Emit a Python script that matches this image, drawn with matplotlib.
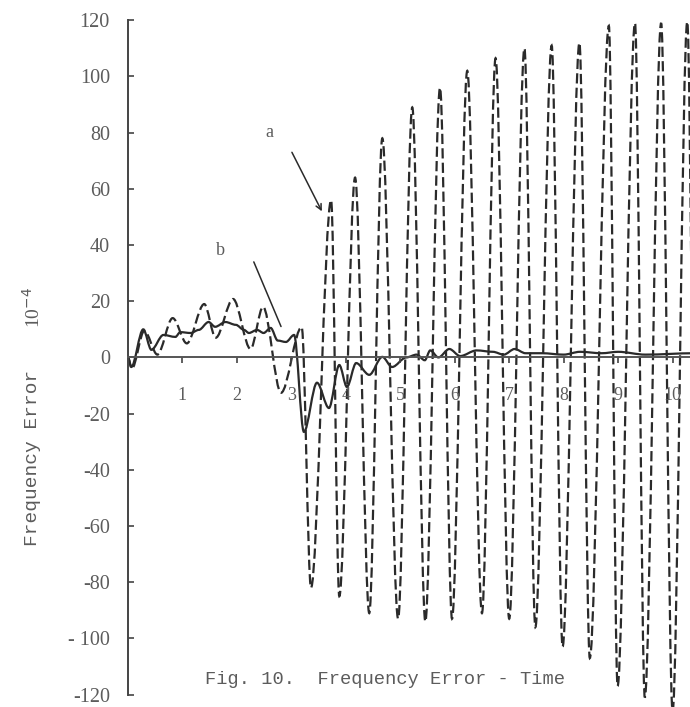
import matplotlib
matplotlib.use("Agg")
import matplotlib.pyplot as plt
from matplotlib.path import Path
from matplotlib.patches import PathPatch

# curve a (dashed): turning points, time vs error (x 10^-4)
t_a = [0.0, 0.07, 0.30, 0.54, 0.82, 1.08, 1.40, 1.61, 1.93, 2.25, 2.48, 2.81, 3.19,
       3.36, 3.73, 3.88, 4.17, 4.43, 4.67, 4.96, 5.22, 5.46, 5.73, 5.95, 6.23,
       6.50, 6.75, 7.00, 7.28, 7.48, 7.78, 7.98, 8.29, 8.48, 8.83, 8.99, 9.31,
       9.49, 9.79, 10.00, 10.27, 10.45]
v_a = [0.0, -4.0, 9.5, 1.0, 14.0, 5.0, 19.0, 7.0, 20.8, 3.0, 18.0, -12.6, 10.8,
       -82.0, 56.0, -85.0, 64.0, -91.0, 78.0, -93.0, 89.0, -94.0, 96.0, -93.0, 102.0,
       -91.0, 106.5, -93.0, 110.0, -96.0, 111.0, -103.0, 112.0, -107.0, 118.0, -117.0, 119.0,
       -121.0, 119.0, -126.0, 119.5, -126.0]

# curve b (solid)
t_b = [0.0, 0.06, 0.28, 0.43, 0.65, 0.87, 0.96, 1.15, 1.30, 1.48, 1.60, 1.79, 1.98,
       2.13, 2.22, 2.37, 2.49, 2.62, 2.75, 2.90, 3.05, 3.23, 3.47, 3.69, 3.88, 4.02,
       4.19, 4.43, 4.67, 4.85, 5.11, 5.30, 5.45, 5.55, 5.70, 5.90, 6.10, 6.40, 6.70,
       6.90, 7.10, 7.30, 7.60, 8.00, 8.30, 8.70, 9.00, 9.50, 10.40]
v_b = [0.0, -3.4, 10.0, 2.7, 8.0, 7.3, 9.0, 8.7, 9.8, 12.6, 10.9, 12.6, 11.6,
       9.8, 8.7, 9.8, 8.7, 10.5, 6.0, 5.5, 8.0, -26.5, -9.0, -18.0, -2.7, -10.5,
       -2.0, -6.2, 0.2, -3.4, 0.0, 1.0, -1.0, 2.5, 0.0, 3.0, 0.5, 2.5, 2.0,
       1.0, 3.0, 1.5, 1.5, 1.0, 2.0, 1.5, 2.0, 1.0, 1.5]

y_ticks = [-120, -100, -80, -60, -40, -20, 0, 20, 40, 60, 80, 100, 120]
y_tick_labels = ['-120', '- 100', '-80', '-60', '-40', '-20', '0',
                 '20', '40', '60', '80', '100', '120']
x_ticks = [1, 2, 3, 4, 5, 6, 7, 8, 9, 10]
x_tick_labels = ['1', '2', '3', '4', '5', '6', '7', '8', '9', '10']

INK = '#2a2a2a'
TEXT = '#5c5c5c'


def smooth_path(t, v, k=0.33):
    """Bezier path through turning points, flat at each one."""
    verts = [(t[0], v[0])]
    codes = [Path.MOVETO]
    for i in range(len(t) - 1):
        dt = t[i + 1] - t[i]
        verts += [(t[i] + k * dt, v[i]), (t[i + 1] - k * dt, v[i + 1]), (t[i + 1], v[i + 1])]
        codes += [Path.CURVE4] * 3
    return Path(verts, codes)


fig = plt.figure(figsize=(6.9, 7.07), dpi=100)
ax = fig.add_axes([128 / 690, 0, 1 - 128 / 690, 1])
ax.set_xlim(0, 10.32)
ax.set_ylim(-124.4, 127.2)

ax.add_patch(PathPatch(smooth_path(t_a, v_a), fill=False, ec=INK, lw=1.6,
                       linestyle=(0, (4.6, 1.9))))
ax.add_patch(PathPatch(smooth_path(t_b, v_b), fill=False, ec=INK, lw=1.6))

for s in ['top', 'right']:
    ax.spines[s].set_visible(False)
ax.spines['left'].set_bounds(-120, 120)
ax.spines['left'].set_color('#444444')
ax.spines['left'].set_linewidth(1.4)
ax.spines['bottom'].set_position(('data', 0))
ax.spines['bottom'].set_color('#555555')
ax.spines['bottom'].set_linewidth(1.4)

serif = 'Liberation Serif'
ax.set_yticks(y_ticks)
ax.set_yticklabels(y_tick_labels, fontfamily=serif, fontsize=14.5, color=TEXT)
ax.tick_params(axis='y', direction='in', length=4, width=1.2, color='#444444', pad=13)
ax.set_xticks(x_ticks)
ax.set_xticklabels(x_tick_labels, fontfamily=serif, fontsize=13, color=TEXT)
ax.tick_params(axis='x', direction='out', length=4.5, width=1.2, color='#444444', pad=17)

# labels on the curves
ax.text(2.59, 80, 'a', fontfamily=serif, fontsize=13, color=TEXT, ha='center', va='center')
ax.annotate('', xy=(3.56, 52), xytext=(3.01, 73),
            arrowprops=dict(arrowstyle='->', lw=1.1, color=INK, shrinkA=0, shrinkB=0))
ax.text(1.70, 38, 'b', fontfamily=serif, fontsize=13, color=TEXT, ha='center', va='center')
ax.annotate('', xy=(2.81, 11), xytext=(2.31, 34),
            arrowprops=dict(arrowstyle='-', lw=1.1, color=INK, shrinkA=0, shrinkB=0))

mono = 'Liberation Mono'
fig.text(33 / 690, 1 - 458 / 707, 'Frequency Error', rotation=90, fontfamily=mono,
         fontsize=14, color=TEXT, ha='center', va='center')
fig.text(33 / 690, 1 - 308 / 707, r'10$^{-4}$', rotation=90, fontfamily=serif,
         fontsize=14, color=TEXT, ha='center', va='center')
fig.text(205 / 690, 1 - 680 / 707, 'Fig. 10.  Frequency Error - Time', fontfamily=mono,
         fontsize=13.5, color=TEXT, ha='left', va='center')

fig.savefig('out.png', dpi=100)
